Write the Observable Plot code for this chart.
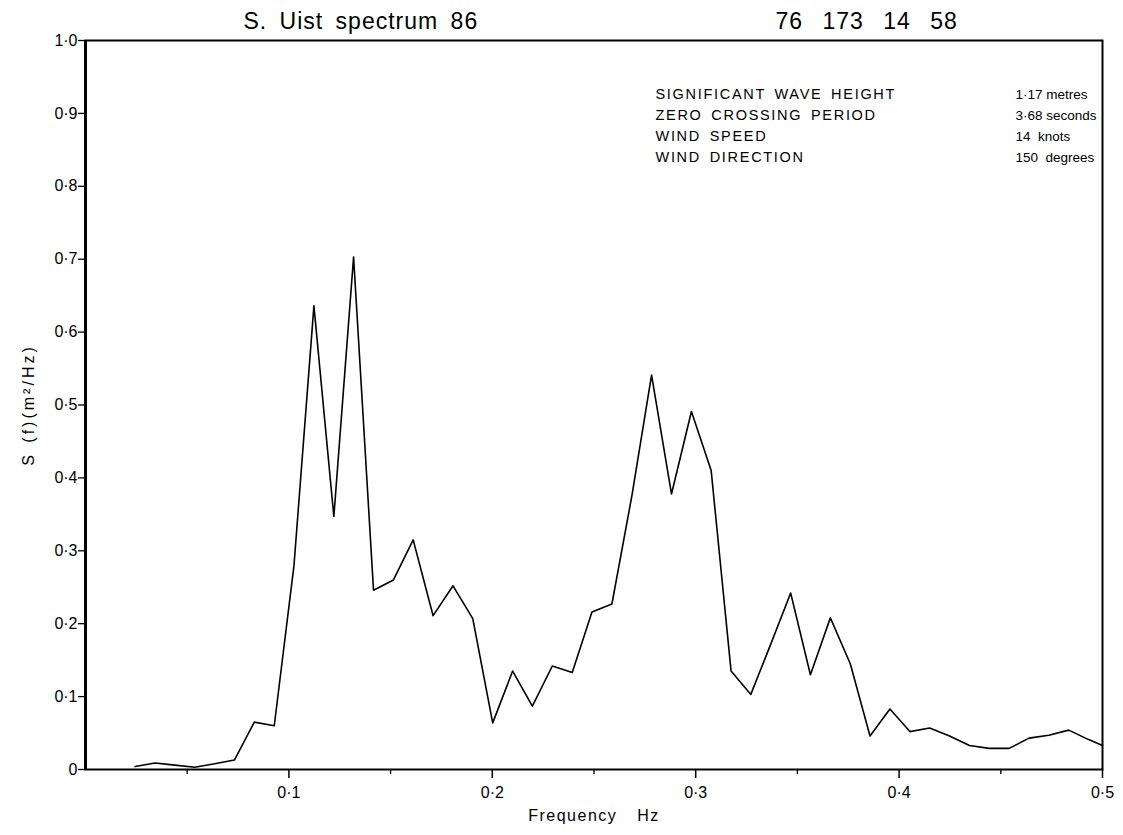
<!DOCTYPE html>
<html>
<head>
<meta charset="utf-8">
<script src="https://cdn.jsdelivr.net/npm/d3@7"></script>
<script src="https://cdn.jsdelivr.net/npm/@observablehq/plot@0.6"></script>
<style>
  html, body { margin: 0; padding: 0; background: white; }
  text[aria-label="info"] { letter-spacing: 1.7px; word-spacing: 3px; }
  text[aria-label="title"] { letter-spacing: 1px; word-spacing: 5px; }
  text[aria-label="title2"] { letter-spacing: 1px; word-spacing: 12px; }
  text[aria-label="xlabel"] { letter-spacing: 1.5px; word-spacing: 14px; }
  text[aria-label="ylabel"] { letter-spacing: 3px; word-spacing: 2px; }
</style>
</head>
<body>
<div id="chart"></div>
<script>
// Frequency (Hz)
const freq = [0.0244, 0.0342, 0.0439, 0.0537, 0.0635, 0.0732, 0.0830, 0.0928, 0.1025, 0.1123,
  0.1221, 0.1318, 0.1416, 0.1514, 0.1611, 0.1709, 0.1807, 0.1904, 0.2002, 0.2100,
  0.2197, 0.2295, 0.2393, 0.2490, 0.2588, 0.2686, 0.2783, 0.2881, 0.2979, 0.3076,
  0.3174, 0.3271, 0.3369, 0.3467, 0.3564, 0.3662, 0.3760, 0.3857, 0.3955, 0.4053,
  0.4150, 0.4248, 0.4346, 0.4443, 0.4541, 0.4639, 0.4736, 0.4834, 0.4932, 0.5000];
// Spectral density S(f) (m^2/Hz)
const spec = [0.004, 0.009, 0.006, 0.003, 0.008, 0.013, 0.065, 0.060, 0.280, 0.636,
  0.347, 0.703, 0.246, 0.260, 0.315, 0.211, 0.252, 0.207, 0.064, 0.135,
  0.087, 0.142, 0.133, 0.216, 0.227, 0.375, 0.541, 0.378, 0.491, 0.410,
  0.135, 0.103, 0.172, 0.242, 0.130, 0.208, 0.145, 0.046, 0.083, 0.052,
  0.057, 0.046, 0.033, 0.029, 0.029, 0.043, 0.047, 0.054, 0.041, 0.033];

const xTicks = [0.1, 0.2, 0.3, 0.4, 0.5];
const xMinorTicks = [0.05, 0.15, 0.25, 0.35, 0.45];
const yTicks = [0, 0.1, 0.2, 0.3, 0.4, 0.5, 0.6, 0.7, 0.8, 0.9, 1.0];

const titleLeft = "S. Uist spectrum 86";
const titleRight = "76 173 14 58";
const infoLabels = ["SIGNIFICANT WAVE HEIGHT", "ZERO CROSSING PERIOD", "WIND SPEED", "WIND DIRECTION"];
const infoValues = ["1·17 metres", "3·68 seconds", "14  knots", "150  degrees"];
const xLabel = "Frequency Hz";
const yLabel = "S (f)(m²/Hz)";

const data = freq.map((f, i) => ({f, s: spec[i]}));
const fmt = d => d === 0 ? "0" : d.toFixed(1).replace(".", "·");
const tag = name => () => name;

const chart = Plot.plot({
  width: 1123,
  height: 835,
  marginLeft: 85,
  marginRight: 21,
  marginTop: 40,
  marginBottom: 66,
  x: {domain: [0, 0.5]},
  y: {domain: [0, 1]},
  style: {fontFamily: "'Liberation Sans', Arial, Helvetica, sans-serif", background: "white", color: "black", overflow: "visible"},
  marks: [
    Plot.axisY({ticks: yTicks, tickSize: 7, tickPadding: 1, tickFormat: fmt, fontSize: 16, label: null, strokeWidth: 1.3}),
    Plot.axisX({ticks: xTicks, tickSize: 9, tickPadding: 8, tickFormat: fmt, fontSize: 16, label: null, strokeWidth: 1.5}),
    Plot.axisX({ticks: xMinorTicks, tickSize: 5, tickFormat: () => "", label: null, strokeWidth: 1.3}),
    Plot.frame({strokeWidth: 2}),
    Plot.ruleX([0], {strokeWidth: 3}),
    Plot.line(data, {x: "f", y: "s", strokeWidth: 1.6, stroke: "black"}),
    Plot.text([titleLeft], {text: d => d, frameAnchor: "top-left", dx: 158, dy: -12, lineAnchor: "bottom", textAnchor: "start", fontSize: 23, ariaLabel: tag("title")}),
    Plot.text([titleRight], {text: d => d, frameAnchor: "top-left", dx: 690, dy: -12, lineAnchor: "bottom", textAnchor: "start", fontSize: 23, ariaLabel: tag("title2")}),
    Plot.text([infoLabels.join("\n")], {text: d => d, frameAnchor: "top-left", dx: 570, dy: 44, lineAnchor: "top", textAnchor: "start", fontSize: 14.5, lineHeight: 21 / 14.5, ariaLabel: tag("info")}),
    Plot.text([infoValues.join("\n")], {text: d => d, frameAnchor: "top-left", dx: 930, dy: 44, lineAnchor: "top", textAnchor: "start", fontSize: 13.5, lineHeight: 21 / 13.5, ariaLabel: tag("info2")}),
    Plot.text([xLabel], {text: d => d, frameAnchor: "bottom", dy: 51, textAnchor: "middle", fontSize: 16, ariaLabel: tag("xlabel")}),
    Plot.text([yLabel], {text: d => d, frameAnchor: "left", dx: -57, rotate: -90, textAnchor: "middle", fontSize: 16, ariaLabel: tag("ylabel")})
  ]
});
document.getElementById("chart").appendChild(chart);
</script>
</body>
</html>
